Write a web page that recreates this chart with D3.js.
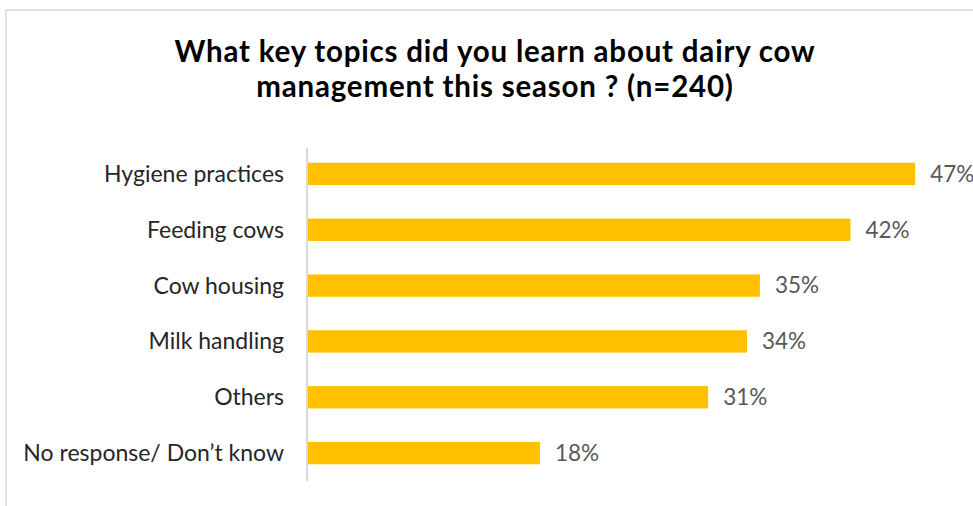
<!DOCTYPE html>
<html>
<head>
<meta charset="utf-8">
<script src="https://cdn.jsdelivr.net/npm/d3@7"></script>
<style>
  html, body { margin: 0; padding: 0; background: #fff; }
  svg { display: block; }
  text { font-family: Lato, "Open Sans", "Noto Sans", sans-serif; }
</style>
</head>
<body>
<svg id="chart" width="973" height="506"></svg>
<script>
// Survey results: share of respondents per topic
const categories = [
  "Hygiene practices",
  "Feeding cows",
  "Cow housing",
  "Milk handling",
  "Others",
  "No response/ Don\u2019t know"
];
const values = [0.47, 0.42, 0.35, 0.34, 0.31, 0.18];
const titleLines = [
  "What key topics did you learn about dairy cow",
  "management this season ? (n=240)"
];

const svg = d3.select("#chart");
const W = 973, H = 506;

// chart area frame (top and left edges visible)
svg.append("rect")
  .attr("x", 6).attr("y", 10)
  .attr("width", W + 20).attr("height", H + 20)
  .attr("fill", "#fff")
  .attr("stroke", "#d9d9d9")
  .attr("stroke-width", 1.5);

// title
svg.append("text")
  .attr("x", 495)
  .attr("text-anchor", "middle")
  .attr("font-weight", "bold")
  .attr("font-size", 29.5)
  .attr("letter-spacing", 0.8)
  .attr("fill", "#000")
  .selectAll("tspan")
  .data(titleLines)
  .join("tspan")
  .attr("x", 495)
  .attr("y", (d, i) => 62 + i * 35)
  .text(d => d);

const x = d3.scaleLinear().domain([0, 0.5]).range([307, 954]);
const y = d3.scaleBand()
  .domain(categories)
  .range([146, 481])
  .paddingInner(0.6)
  .paddingOuter(0.3);

// bars
svg.append("g")
  .selectAll("rect")
  .data(values)
  .join("rect")
  .attr("x", x(0))
  .attr("y", (d, i) => y(categories[i]))
  .attr("width", d => x(d) - x(0))
  .attr("height", y.bandwidth())
  .attr("fill", "#ffc000");

// category axis
const yAxis = svg.append("g")
  .attr("transform", `translate(${x(0)},0)`)
  .call(d3.axisLeft(y).tickSize(0).tickPadding(23));
yAxis.select(".domain")
  .attr("stroke", "#d9d9d9")
  .attr("stroke-width", 2)
  .attr("d", `M0,${y.range()[0] + 2}V${y.range()[1]}`);
yAxis.selectAll(".tick text")
  .attr("font-family", "Lato, 'Open Sans', sans-serif")
  .attr("font-size", 23)
  .attr("fill", "#262626")
  .attr("dy", "0.35em");

// value labels
svg.append("g")
  .selectAll("text")
  .data(values)
  .join("text")
  .attr("x", d => x(d) + 15)
  .attr("y", (d, i) => y(categories[i]) + y.bandwidth() / 2)
  .attr("dy", "0.35em")
  .attr("font-size", 22.5)
  .attr("fill", "#595959")
  .text(d => d3.format(".0%")(d));
</script>
</body>
</html>
